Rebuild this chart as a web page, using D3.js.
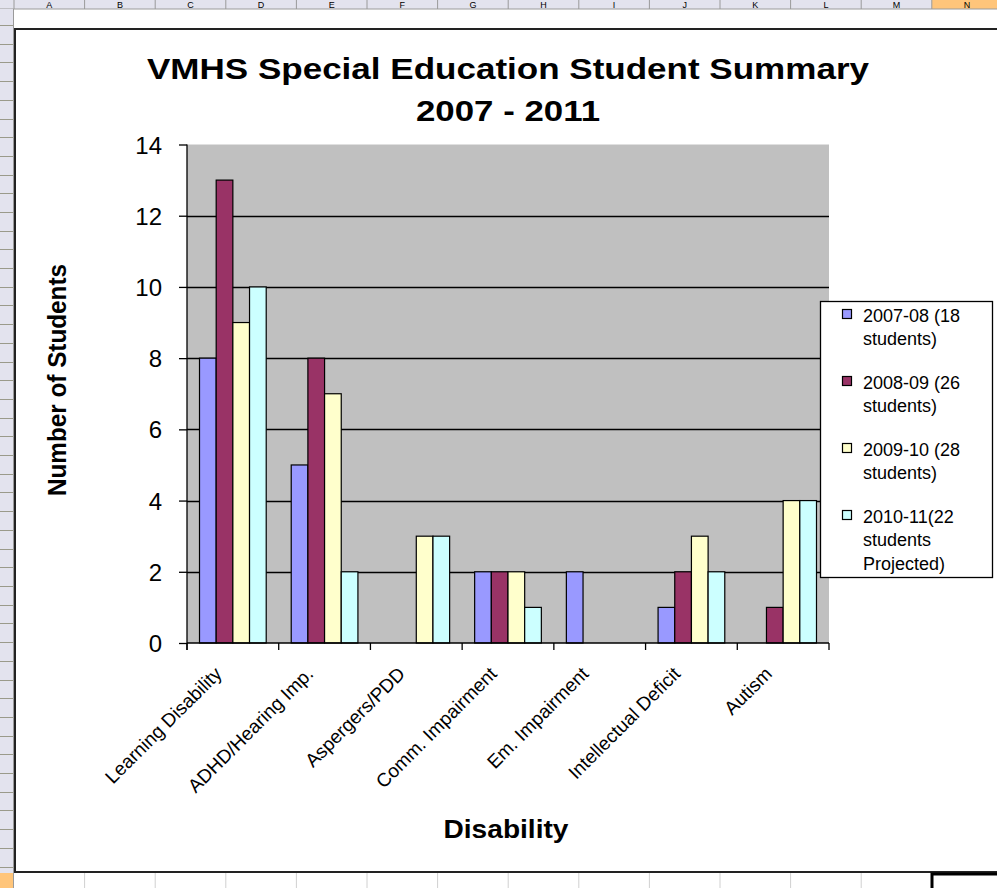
<!DOCTYPE html>
<html>
<head>
<meta charset="utf-8">
<script src="https://cdn.jsdelivr.net/npm/d3@7"></script>
<style>
  html, body { margin: 0; padding: 0; background: #ffffff; }
  svg { display: block; }
  text { font-family: "Liberation Sans", Arial, sans-serif; }
</style>
</head>
<body>
<svg id="chart" width="997" height="888"></svg>
<script>
// Special education enrolment by disability, one series per school year
const categories = ["Learning Disability", "ADHD/Hearing Imp.", "Aspergers/PDD",
  "Comm. Impairment", "Em. Impairment", "Intellectual Deficit", "Autism"];
const seriesNames = ["2007-08 (18 students)", "2008-09 (26 students)",
  "2009-10 (28 students)", "2010-11(22 students Projected)"];
const legendLines = [["2007-08 (18", "students)"], ["2008-09 (26", "students)"],
  ["2009-10 (28", "students)"], ["2010-11(22", "students", "Projected)"]];
const values2007 = [8, 5, 0, 2, 2, 1, 0];
const values2008 = [13, 8, 0, 2, 0, 2, 1];
const values2009 = [9, 7, 3, 2, 0, 3, 4];
const values2010 = [10, 2, 3, 1, 0, 2, 4];
const yTicks = [0, 2, 4, 6, 8, 10, 12, 14];
const columnLetters = ["A","B","C","D","E","F","G","H","I","J","K","L","M","N"];

const series = [values2007, values2008, values2009, values2010];
const colors = ["#9999ff", "#993366", "#ffffcc", "#ccffff"];

const svg = d3.select("#chart");

// ---- worksheet surroundings ----
const colW = 70.6, colX0 = 14;
const sheet = svg.append("g");
sheet.append("rect").attr("x", 0).attr("y", 0).attr("width", 997).attr("height", 9).attr("fill", "#e3e3ee");
sheet.append("rect").attr("x", colX0 + 13 * colW).attr("y", 0).attr("width", 997 - (colX0 + 13 * colW)).attr("height", 9).attr("fill", "#ffc57a");
sheet.append("line").attr("x1", 0).attr("x2", 997).attr("y1", 9).attr("y2", 9).attr("stroke", "#9a9a9a");
columnLetters.forEach((c, i) => {
  const x0 = colX0 + i * colW;
  sheet.append("line").attr("x1", x0).attr("x2", x0).attr("y1", 0).attr("y2", 9).attr("stroke", "#9a9a9a");
  sheet.append("text")
    .attr("x", x0 + colW / 2).attr("y", 8).attr("text-anchor", "middle")
    .attr("font-size", 9).attr("fill", "#000").text(c);
});
// row header strip
sheet.append("rect").attr("x", 0).attr("y", 9).attr("width", 13).attr("height", 879).attr("fill", "#e3e3ee");
sheet.append("rect").attr("x", 0).attr("y", 873).attr("width", 13).attr("height", 15).attr("fill", "#ffc57a");
for (let y = 25; y < 872; y += 18.7) {
  sheet.append("line").attr("x1", 0).attr("x2", 13).attr("y1", Math.round(y) + 0.5).attr("y2", Math.round(y) + 0.5).attr("stroke", "#9a9a8a");
}
sheet.append("line").attr("x1", 13.5).attr("x2", 13.5).attr("y1", 9).attr("y2", 888).attr("stroke", "#9a9a9a");
// cell grid below the chart
for (let i = 1; i < 14; i++) {
  const x0 = colX0 + i * colW;
  sheet.append("line").attr("x1", x0).attr("x2", x0).attr("y1", 873).attr("y2", 888).attr("stroke", "#d0d0d0");
}
// chart area frame
sheet.append("rect").attr("x", 15).attr("y", 29).attr("width", 1000).attr("height", 843)
  .attr("fill", "#ffffff").attr("stroke", "#222").attr("stroke-width", 2);
// selected cell outline
sheet.append("path").attr("d", "M932,888 V874 H997").attr("fill", "none").attr("stroke", "#000").attr("stroke-width", 3);

// ---- plot ----
const plot = { left: 187, right: 829, top: 144.5, bottom: 643 };

const x0 = d3.scaleBand().domain(categories).range([plot.left, plot.right]).paddingInner(0).paddingOuter(0);
const barW = x0.bandwidth() / 5.5;           // four bars + 150% gap
const x1 = d3.scaleBand().domain(d3.range(series.length)).range([0, barW * 4]);
const y = d3.scaleLinear().domain([0, 14]).range([plot.bottom, plot.top]);

const g = svg.append("g");
g.append("rect").attr("x", plot.left).attr("y", plot.top)
  .attr("width", plot.right - plot.left).attr("height", plot.bottom - plot.top)
  .attr("fill", "#c0c0c0");
g.append("line").attr("x1", plot.left).attr("x2", plot.right).attr("y1", plot.top).attr("y2", plot.top)
  .attr("stroke", "#e0e0e0");

// gridlines
g.selectAll(".grid").data(yTicks.filter(t => t > 0 && t < 14)).join("line")
  .attr("x1", plot.left).attr("x2", plot.right)
  .attr("y1", d => Math.round(y(d)) + 0.5).attr("y2", d => Math.round(y(d)) + 0.5)
  .attr("stroke", "#000").attr("stroke-width", 1.3);

// bars
const groups = g.selectAll(".cat").data(categories).join("g")
  .attr("transform", d => `translate(${x0(d) + barW * 0.75},0)`);
groups.selectAll("rect").data((d, ci) => series.map((s, si) => ({ si, v: s[ci] })))
  .join("rect")
  .attr("x", d => x1(d.si))
  .attr("y", d => y(d.v))
  .attr("width", x1.bandwidth())
  .attr("height", d => y(0) - y(d.v))
  .attr("fill", d => colors[d.si])
  .attr("stroke", "#000").attr("stroke-width", 1.2);

// y axis
const yAxis = d3.axisLeft(y).tickValues(yTicks).tickSize(8).tickFormat(d3.format("d"));
const ya = g.append("g").attr("transform", `translate(${plot.left},0)`).call(yAxis);
ya.select(".domain").attr("stroke", "#000").attr("stroke-width", 1.3).attr("d", `M0,${plot.top}V${plot.bottom + 7}`);
ya.selectAll(".tick line").attr("stroke", "#000").attr("stroke-width", 1.3);
ya.selectAll(".tick text").attr("font-size", 24).attr("font-family", "Liberation Sans, Arial, sans-serif")
  .attr("fill", "#000").attr("x", -25).attr("dy", "0.36em");

// x axis
const xa = g.append("g").attr("transform", `translate(0,${plot.bottom})`);
xa.append("line").attr("x1", plot.left).attr("x2", plot.right).attr("y1", 0).attr("y2", 0)
  .attr("stroke", "#000").attr("stroke-width", 1.3);
const boundaries = categories.map(c => x0(c)).concat([plot.right]);
xa.selectAll(".xt").data(boundaries).join("line")
  .attr("x1", d => d).attr("x2", d => d).attr("y1", 0).attr("y2", 7)
  .attr("stroke", "#000").attr("stroke-width", 1.3);
xa.selectAll(".xl").data(categories).join("text")
  .attr("transform", d => `translate(${x0(d) + x0.bandwidth() / 2 - 10},${32}) rotate(-45)`)
  .attr("text-anchor", "end")
  .attr("font-size", 19)
  .attr("fill", "#000")
  .text(d => d);

// titles
const title = svg.append("text").attr("x", 508).attr("y", 79).attr("text-anchor", "middle")
  .attr("font-size", 30).attr("font-weight", "bold").attr("fill", "#000");
title.append("tspan").attr("x", 508).attr("textLength", 722).attr("lengthAdjust", "spacingAndGlyphs")
  .text("VMHS Special Education Student Summary");
title.append("tspan").attr("x", 508).attr("dy", 42).attr("textLength", 184).attr("lengthAdjust", "spacingAndGlyphs")
  .text("2007 - 2011");

svg.append("text").attr("transform", "translate(66,380) rotate(-90)").attr("text-anchor", "middle")
  .attr("font-size", 25).attr("font-weight", "bold").attr("textLength", 232).attr("lengthAdjust", "spacingAndGlyphs")
  .text("Number of Students");

svg.append("text").attr("x", 506).attr("y", 838).attr("text-anchor", "middle")
  .attr("font-size", 26).attr("font-weight", "bold").attr("textLength", 125).attr("lengthAdjust", "spacingAndGlyphs")
  .text("Disability");

// legend
const lg = svg.append("g");
lg.append("rect").attr("x", 820.5).attr("y", 301.5).attr("width", 172).attr("height", 276)
  .attr("fill", "#fff").attr("stroke", "#000").attr("stroke-width", 1.3);
const entryY = [315, 382, 449, 516];
seriesNames.forEach((name, i) => {
  lg.append("rect").attr("x", 842.5).attr("y", entryY[i] - 5.5).attr("width", 9).attr("height", 9)
    .attr("fill", colors[i]).attr("stroke", "#000").attr("stroke-width", 1.2);
  const t = lg.append("text").attr("x", 863).attr("y", entryY[i] + 6.5)
    .attr("font-size", 18).attr("fill", "#000");
  legendLines[i].forEach((ln, j) => {
    t.append("tspan").attr("x", 863).attr("dy", j === 0 ? 0 : 23.5).text(ln);
  });
});
</script>
</body>
</html>
